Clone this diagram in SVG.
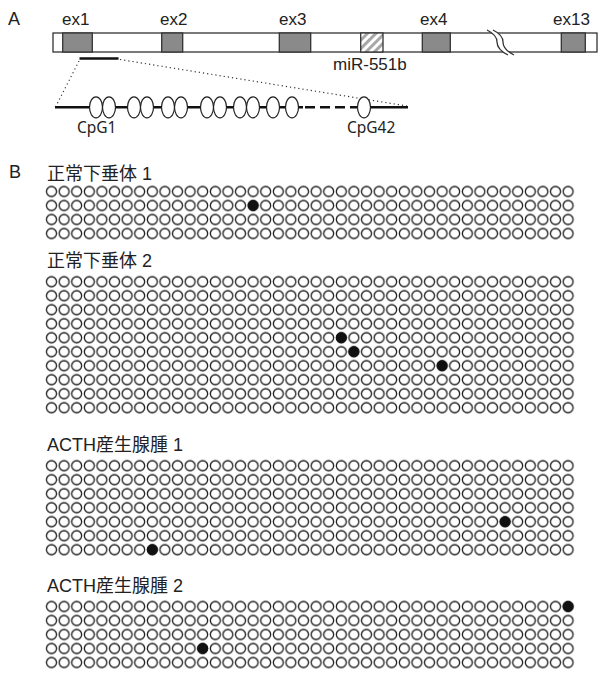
<svg xmlns="http://www.w3.org/2000/svg" width="598" height="677" viewBox="0 0 598 677">
<style>
.t{font-family:"Liberation Sans","Noto Sans CJK JP",Arial,sans-serif;fill:#222}
.big{font-size:17px}
.lab{font-size:18px}
.cpg{font-family:"Noto Sans","Liberation Sans",sans-serif;font-size:15.5px;fill:#222}
.ex{fill:#8a8a8a;stroke:#333;stroke-width:1.3}
.e{fill:#fff;stroke:#222;stroke-width:1.2}
.m{fill:#111;stroke:#111;stroke-width:1}
</style>
<defs>
<pattern id="cg" x="0" y="0" width="12.6" height="14" patternUnits="userSpaceOnUse">
<circle cx="6.3" cy="7" r="5" fill="none" stroke="#1a1a1a" stroke-width="1.3"/>
</pattern>
<pattern id="hatch" x="0" y="0" width="6" height="6" patternUnits="userSpaceOnUse" patternTransform="rotate(45)">
<rect width="6" height="6" fill="#fff"/>
<rect x="0" y="0" width="3" height="6" fill="#a8a8a8"/>
</pattern>
</defs>

<g id="panelA">
<text class="t big" x="8" y="25" style="font-size:18px">A</text>
<rect x="53" y="33" width="544" height="19" fill="#fff" stroke="#333" stroke-width="1.3"/>
<g id="ex1"><rect class="ex" x="62.7" y="33" width="29.6" height="19"/><text class="t big" x="62" y="25">ex1</text></g>
<g id="ex2"><rect class="ex" x="161.7" y="33" width="21" height="19"/><text class="t big" x="160" y="25">ex2</text></g>
<g id="ex3"><rect class="ex" x="279.3" y="33" width="31.4" height="19"/><text class="t big" x="279" y="25">ex3</text></g>
<g id="mir"><rect x="360.7" y="33" width="22.3" height="19" fill="url(#hatch)" stroke="#333" stroke-width="1.3"/><text class="t big" x="333" y="70">miR-551b</text></g>
<g id="ex4"><rect class="ex" x="422.3" y="33" width="28" height="19"/><text class="t big" x="420" y="25">ex4</text></g>
<g id="ex13"><rect class="ex" x="561.3" y="33" width="24" height="19"/><text class="t big" x="553" y="25">ex13</text></g>
<g id="break">
<path d="M487,30 C493,33 497,36 497,42 C497,48 502,52 508,55 L514,55 C508,52 503,48 503,42 C503,36 499,33 493,30 Z" fill="#fff"/>
<path d="M487,30 C493,33 497,36 497,42 C497,48 502,52 508,55 M493,30 C499,33 503,36 503,42 C503,48 508,52 514,55" fill="none" stroke="#333" stroke-width="1.3"/>
</g>
</g>

<g id="connectors">
<line x1="79.5" y1="58.5" x2="118.5" y2="58.5" stroke="#111" stroke-width="2.6"/>
<line x1="79" y1="61" x2="56" y2="106" stroke="#333" stroke-width="1.2" stroke-dasharray="1.2 3"/>
<line x1="120" y1="59.5" x2="407" y2="106" stroke="#333" stroke-width="1.2" stroke-dasharray="1.2 3"/>
</g>

<g id="cpgline">
<line x1="55" y1="107.3" x2="303" y2="107.3" stroke="#111" stroke-width="2.6"/>
<line x1="305" y1="107.3" x2="357" y2="107.3" stroke="#111" stroke-width="2.6" stroke-dasharray="10 5"/>
<line x1="360" y1="107.3" x2="408" y2="107.3" stroke="#111" stroke-width="2.6"/>
<ellipse class="e" cx="96" cy="107.3" rx="6.5" ry="10.5"/>
<ellipse class="e" cx="109" cy="107.3" rx="6.5" ry="10.5"/>
<ellipse class="e" cx="134" cy="107.3" rx="6.5" ry="10.5"/>
<ellipse class="e" cx="147" cy="107.3" rx="6.5" ry="10.5"/>
<ellipse class="e" cx="168" cy="107.3" rx="6.5" ry="10.5"/>
<ellipse class="e" cx="181" cy="107.3" rx="6.5" ry="10.5"/>
<ellipse class="e" cx="207" cy="107.3" rx="6.5" ry="10.5"/>
<ellipse class="e" cx="220" cy="107.3" rx="6.5" ry="10.5"/>
<ellipse class="e" cx="240" cy="107.3" rx="6.5" ry="10.5"/>
<ellipse class="e" cx="253" cy="107.3" rx="6.5" ry="10.5"/>
<ellipse class="e" cx="273" cy="107.3" rx="6.5" ry="10.5"/>
<ellipse class="e" cx="292" cy="107.3" rx="6.5" ry="10.5"/>
<ellipse class="e" cx="364" cy="107.3" rx="6.5" ry="10.5"/>
<text class="cpg" x="77" y="133">CpG1</text>
<text class="cpg" x="347" y="133">CpG42</text>
</g>

<g id="panelB">
<text class="t big" x="9" y="178" style="font-size:18px">B</text>
<g id="normal1">
<text class="t lab" x="47" y="180">正常下垂体 1</text>
<g transform="translate(45.2,184.5)">
<rect width="529.2" height="56" fill="url(#cg)"/>
<circle class="m" cx="207.9" cy="21" r="5"/>
</g>
</g>
<g id="normal2">
<text class="t lab" x="47" y="267">正常下垂体 2</text>
<g transform="translate(45.2,274.7)">
<rect width="529.2" height="140" fill="url(#cg)"/>
<circle class="m" cx="296.1" cy="63" r="5"/>
<circle class="m" cx="308.7" cy="77" r="5"/>
<circle class="m" cx="396.9" cy="91" r="5"/>
</g>
</g>
<g id="acth1">
<text class="t lab" x="47" y="451">ACTH産生腺腫 1</text>
<g transform="translate(45.2,458.7)">
<rect width="529.2" height="98" fill="url(#cg)"/>
<circle class="m" cx="459.9" cy="63" r="5"/>
<circle class="m" cx="107.1" cy="91" r="5"/>
</g>
</g>
<g id="acth2">
<text class="t lab" x="47" y="592">ACTH産生腺腫 2</text>
<g transform="translate(45.2,599.5)">
<rect width="529.2" height="70" fill="url(#cg)"/>
<circle class="m" cx="522.9" cy="7" r="5"/>
<circle class="m" cx="157.5" cy="49" r="5"/>
</g>
</g>
</g>
</svg>
